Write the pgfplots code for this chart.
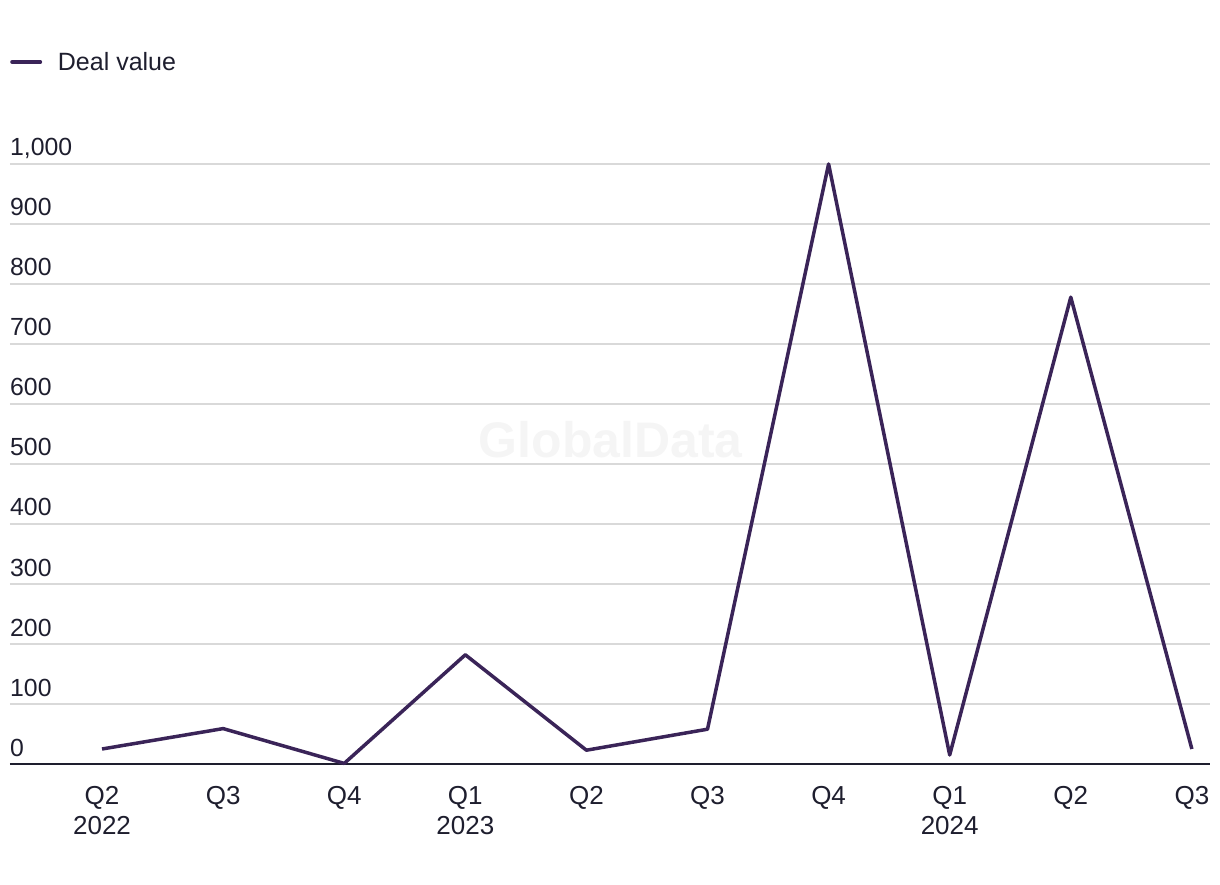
\documentclass[border=0pt]{standalone}
\usepackage{pgfplots}
\pgfplotsset{compat=1.18}
\usepackage{fontspec}
\setmainfont{Liberation Sans}
\definecolor{linec}{RGB}{58,36,88}
\definecolor{txt}{RGB}{30,30,46}
\definecolor{gridc}{RGB}{217,217,217}
\begin{document}
\begin{tikzpicture}
\useasboundingbox (0,0) rectangle (1220pt,884pt);
\begin{axis}[
  at={(10pt,120pt)}, anchor=south west,
  scale only axis, width=1200pt, height=600pt,
  xmin=-0.76, xmax=9.15, ymin=0, ymax=1000,
  axis lines*=left,
  x axis line style={txt, line width=2.5pt},
  y axis line style={draw=none},
  clip=false,
  ytick={0,100,...,1000},
  ymajorgrids, grid style={gridc, line width=2pt},
  major tick length=0pt,
  /pgf/number format/assume math mode=true,
  /pgf/number format/1000 sep={,},
  yticklabel style={anchor=base west, inner sep=0pt, xshift=0pt, yshift=8pt, font=\fontsize{24.8}{28}\selectfont, text=txt},
  xtick={0,...,9},
  xticklabels={{Q2\\2022},Q3,Q4,{Q1\\2023},Q2,Q3,Q4,{Q1\\2024},Q2,Q3},
  xticklabel style={align=center, anchor=north, inner sep=0pt, yshift=-22pt, font=\fontsize{26}{30}\selectfont, text=txt},
  legend style={at={(0,1)}, anchor=west, yshift=102pt, draw=none, fill=none, inner sep=0pt, font=\fontsize{25}{30}\selectfont, text=txt, legend cell align=left},
  legend image code/.code={\draw[line width=4pt, linec, line cap=round] (0pt,0pt) -- (28pt,0pt); \path (42pt,0pt);},
]
\node[font=\bfseries\fontsize{50}{50}\selectfont, text=black!4] at (axis cs:4.2,540) {GlobalData};
\addplot[linec, line width=3.5pt, line join=round] coordinates {
  (0,25) (1,59) (2,1) (3,182) (4,23) (5,58) (6,1000) (7,15) (8,778) (9,25)
};
\addlegendentry{Deal value}
\end{axis}
\end{tikzpicture}
\end{document}
